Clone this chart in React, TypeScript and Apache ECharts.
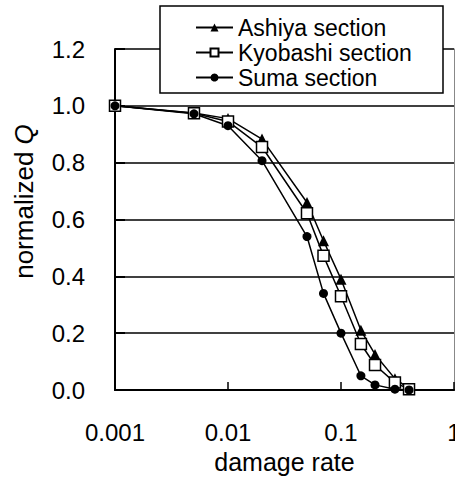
import React, { useEffect, useRef } from "react";
import * as echarts from "echarts";

const damageRate = [0.001, 0.005, 0.01, 0.02, 0.05, 0.07, 0.1, 0.15, 0.2, 0.3, 0.4];
const ashiya = [1.0, 0.975, 0.955, 0.883, 0.66, 0.525, 0.39, 0.21, 0.125, 0.04, 0.005];
const kyobashi = [1.0, 0.974, 0.945, 0.855, 0.622, 0.472, 0.33, 0.162, 0.088, 0.026, 0.003];
const suma = [1.0, 0.972, 0.93, 0.807, 0.54, 0.34, 0.2, 0.05, 0.018, 0.003, 0.0];
const seriesNames = ["Ashiya section", "Kyobashi section", "Suma section"];
const xTickLabels: Record<string, string> = { "0.001": "0.001", "0.01": "0.01", "0.1": "0.1", "1": "1" };

const FONT = "'Liberation Sans', Arial, Helvetica, sans-serif";
const FS_TICK = 24;
const FS_NAME = 25;
const FS_YNAME = 26;
const FS_LEGEND = 23;

export default function App() {
  const ref = useRef<HTMLDivElement>(null);
  useEffect(() => {
    if (!ref.current) return;
    const chart = echarts.init(ref.current, undefined, { renderer: "svg" });
    const pair = (ys: number[]) => damageRate.map((x, i) => [x, ys[i]]);
    chart.setOption({
      animation: false,
      backgroundColor: "#fff",
      textStyle: { fontFamily: FONT },
      grid: { left: 115, right: 1, top: 49, bottom: 90, containLabel: false, outerBoundsMode: "none" },
      xAxis: [
        {
          type: "log",
          logBase: 10,
          min: 0.001,
          max: 1,
          name: "damage rate",
          nameLocation: "middle",
          nameGap: 59,
          nameTextStyle: { fontSize: FS_NAME, color: "#000", fontFamily: FONT },
          axisLine: { show: true, lineStyle: { color: "#000", width: 2 } },
          axisTick: { show: true, inside: true, length: 8, lineStyle: { color: "#000", width: 1.5 } },
          minorTick: { show: false },
          splitLine: { show: false },
          axisLabel: {
            fontSize: FS_TICK,
            color: "#000",
            fontFamily: FONT,
            margin: 30,
            hideOverlap: false,
            formatter: (v: number) => {
              const k = String(Number(v.toPrecision(3)));
              return xTickLabels[k] ?? k;
            },
          },
        },
        {
          type: "log",
          logBase: 10,
          min: 0.001,
          max: 1,
          position: "top",
          axisLine: { show: true, lineStyle: { color: "#000", width: 1.5 } },
          axisTick: { show: false },
          axisLabel: { show: false },
          splitLine: { show: false },
        },
      ],
      yAxis: [
        {
          type: "value",
          min: 0,
          max: 1.2,
          interval: 0.2,
          name: "{n|normalized }{q|Q}",
          nameLocation: "middle",
          nameGap: 78,
          nameTextStyle: {
            color: "#000",
            padding: [0, 0, 0, 36],
            rich: {
              n: { fontSize: FS_YNAME, fontFamily: FONT, color: "#000" },
              q: { fontSize: FS_YNAME, fontFamily: FONT, fontStyle: "italic", color: "#000" },
            },
          },
          axisLine: { show: true, lineStyle: { color: "#000", width: 2 } },
          axisTick: { show: true, inside: true, length: 10, lineStyle: { color: "#000", width: 2 } },
          splitLine: { show: true, lineStyle: { color: "#000", width: 1.5 } },
          axisLabel: {
            fontSize: FS_TICK,
            color: "#000",
            fontFamily: FONT,
            margin: 30,
            formatter: (v: number) => v.toFixed(1),
          },
        },
        {
          type: "value",
          min: 0,
          max: 1.2,
          interval: 0.2,
          position: "right",
          axisLine: { show: true, lineStyle: { color: "#888", width: 1 } },
          axisTick: { show: false },
          axisLabel: { show: false },
          splitLine: { show: false },
        },
      ],
      legend: {
        orient: "vertical",
        left: 195,
        top: 16,
        itemWidth: 37,
        itemHeight: 10,
        itemGap: 2,
        padding: 0,
        z: 10,
        textStyle: { fontSize: FS_LEGEND, color: "#000", fontFamily: FONT, lineHeight: 23 },
        data: seriesNames,
      },
      graphic: [
        {
          type: "rect",
          z: 5,
          shape: { x: 160, y: 6, width: 283, height: 87 },
          style: { fill: "#fff", stroke: "#000", lineWidth: 1.5 },
        },
      ],
      series: [
        {
          name: seriesNames[0],
          type: "line",
          data: pair(ashiya),
          symbol: "triangle",
          symbolSize: 11,
          showAllSymbol: true,
          lineStyle: { color: "#000", width: 1.5 },
          itemStyle: { color: "#000" },
        },
        {
          name: seriesNames[1],
          type: "line",
          data: pair(kyobashi),
          symbol: "rect",
          symbolSize: 11,
          showAllSymbol: true,
          lineStyle: { color: "#000", width: 1.5 },
          itemStyle: { color: "#fff", borderColor: "#000", borderWidth: 1.5 },
        },
        {
          name: seriesNames[2],
          type: "line",
          data: pair(suma),
          symbol: "circle",
          symbolSize: 9,
          showAllSymbol: true,
          lineStyle: { color: "#000", width: 1.5 },
          itemStyle: { color: "#000" },
        },
      ],
    });
    return () => chart.dispose();
  }, []);
  return (
    <div
      ref={ref}
      style={{ position: "fixed", left: 0, top: 0, width: 455, height: 480 }}
    />
  );
}
